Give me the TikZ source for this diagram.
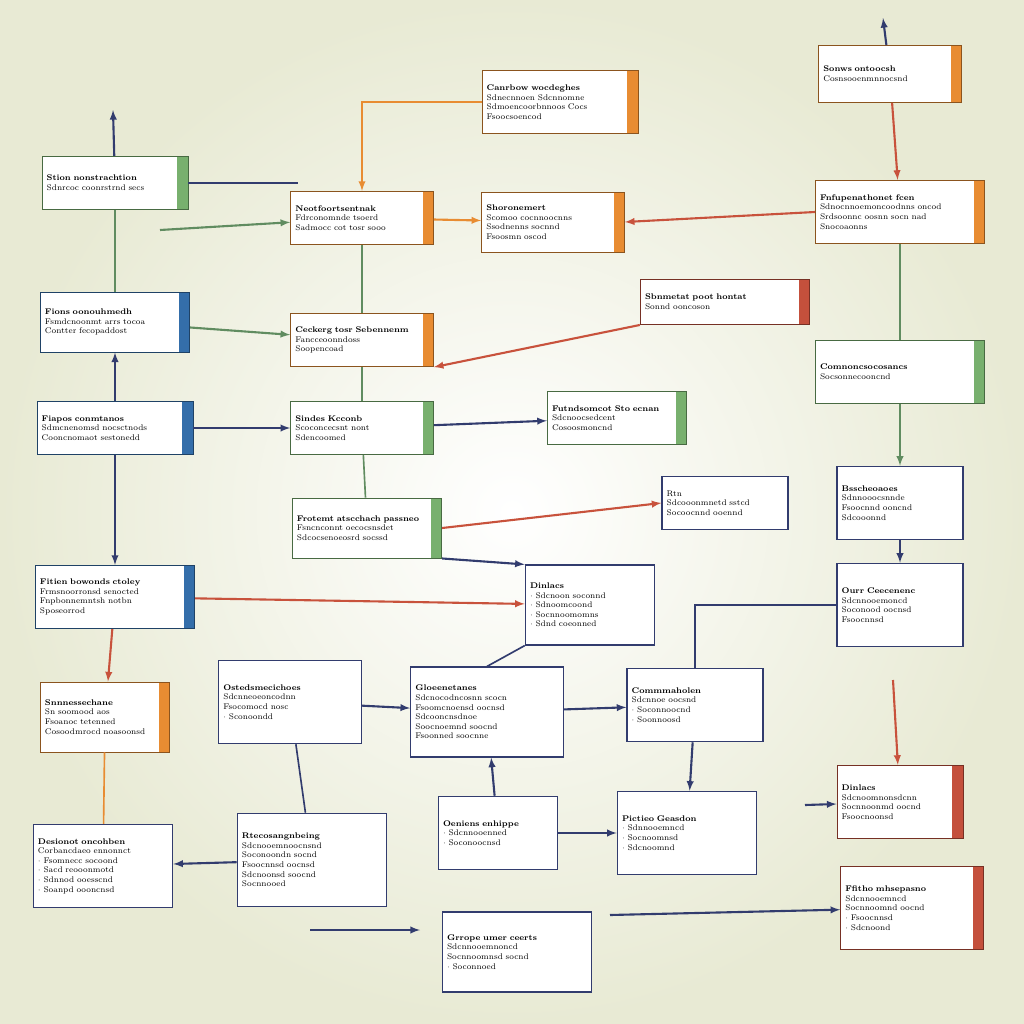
\documentclass[tikz,border=0pt]{standalone}
\usepackage{tikz}
\usetikzlibrary{calc,positioning,arrows}
\definecolor{bgout}{RGB}{232,234,212}
\definecolor{tabblue}{RGB}{52,110,170}
\definecolor{tabgreen}{RGB}{120,176,110}
\definecolor{taborange}{RGB}{232,140,50}
\definecolor{tabred}{RGB}{196,80,60}
\definecolor{navy}{RGB}{50,60,110}
\definecolor{lnred}{RGB}{200,82,60}
\definecolor{lngreen}{RGB}{96,140,96}
\tikzset{
    box/.style={draw=#1!60!black, line width=0.8pt, fill=white, inner sep=4pt,
        align=left, font=\fontsize{7}{8.2}\selectfont,
        path picture={\fill[#1] ($(path picture bounding box.north east)+(-9pt,0)$)
            rectangle (path picture bounding box.south east);}},
    lbox/.style={box=#1,
        append after command={\pgfextra{\fill[tabblue] (\tikzlastnode.north west) rectangle ($(\tikzlastnode.south west)+(6pt,0)$);}}},
    plain/.style={draw=navy, line width=1pt, fill=white, inner sep=4pt,
        align=left, font=\fontsize{7}{8.2}\selectfont},
    arr/.style={-latex, line width=1.8pt, draw=#1},
    ln/.style={line width=1.4pt, draw=#1}
}
\begin{document}
\begin{tikzpicture}[x=0.03cm, y=-0.03cm]
\shade[inner color=white, outer color=bgout] (0,0) rectangle (1024,1024);
\useasboundingbox (0,0) rectangle (1024,1024);

% left column
\node[lbox=tabgreen, text width=4.1cm, minimum height=1.6cm] (stion) at (115,183)
    {\textbf{Stion nonstrachtion}\\ Sdnrcoc coonrstrnd secs};
\node[lbox=tabblue, text width=4.2cm, minimum height=1.8cm] (fions) at (115,322)
    {\textbf{Fions oonouhmedh}\\ Fsmdcnoonmt arrs tocoa\\ Contter fecopaddost};
\node[lbox=tabblue, text width=4.4cm, minimum height=1.6cm] (fiapos) at (115,428)
    {\textbf{Fiapos conmtanos}\\ Sdmcnenomsd nocsctnods\\ Cooncnomaot sestonedd};
\node[lbox=tabblue, text width=4.5cm, minimum height=1.9cm] (fitien) at (115,597)
    {\textbf{Fitien bowonds ctoley}\\ Frmsnoorronsd senocted\\ Fnpbonnemntsh notbn\\ Sposeorrod};
\node[box=taborange, text width=3.6cm, minimum height=2.1cm] (snne) at (105,717)
    {\textbf{Snnnessechane}\\ Sn soomood aos\\ Fsoanoc tetenned\\ Cosoodmrocd noasoonsd};
\node[plain, text width=3.9cm, minimum height=2.5cm] (desion) at (103,866)
    {\textbf{Desionot oncohben}\\ Corbancdaeo ennonnct\\ $\cdot$ Fsomnecc socoond\\ $\cdot$ Sacd reooonmotd\\ $\cdot$ Sdnnod ooesscnd\\ $\cdot$ Soanpd oooncnsd};

% second column
\node[box=taborange, text width=4cm, minimum height=1.6cm] (neot) at (362,218)
    {\textbf{Neotfoortsentnak}\\ Fdrconomnde tsoerd\\ Sadmocc cot tosr sooo};
\node[box=taborange, text width=4cm, minimum height=1.6cm] (ceck) at (362,340)
    {\textbf{Ceckerg tosr Sebennenm}\\ Fancceoonndoss\\ Soopencoad};
\node[box=tabgreen, text width=4cm, minimum height=1.6cm] (sindes) at (362,428)
    {\textbf{Sindes Kcconb}\\ Scoconcecsnt nont\\ Sdencoomed};
\node[box=tabgreen, text width=4.2cm, minimum height=1.8cm] (frotemt) at (367,528)
    {\textbf{Frotemt atscchach passneo}\\ Fsncnconnt oecocsnsdet\\ Sdcocsenoeosrd socssd};

% middle column
\node[box=taborange, text width=4.4cm, minimum height=1.9cm] (canr) at (560,102)
    {\textbf{Canrbow wocdeghes}\\ Sdnecnnoen Sdcnnomne\\ Sdmoencoorbnnoos Cocs\\ Fsoocsoencod};
\node[box=taborange, text width=4cm, minimum height=1.8cm] (shor) at (553,222)
    {\textbf{Shoronemert}\\ Scomoo cocnnoocnns\\ Ssodnenns socnnd\\ Fsoosmn oscod};
\node[box=tabgreen, text width=3.9cm, minimum height=1.6cm] (futnd) at (617,418)
    {\textbf{Futndsomcot Sto ecnan}\\ Sdcnoocsedcent\\ Cosoosmoncnd};
\node[box=tabred, text width=4.8cm, minimum height=1.35cm] (sbnm) at (725,302)
    {\textbf{Sbnmetat poot hontat}\\ Sonnd ooncoson};

% right column
\node[box=taborange, text width=4cm, minimum height=1.7cm] (sonws) at (890,74)
    {\textbf{Sonws ontoocsh}\\ Cosnsooenmnnocsnd};
\node[box=taborange, text width=4.8cm, minimum height=1.9cm] (fnfup) at (900,212)
    {\textbf{Fnfupenathonet fcen}\\ Sdnocnnoemoncoodnns oncod\\ Srdsoonnc oosnn socn nad\\ Snocoaonns};
\node[box=tabgreen, text width=4.8cm, minimum height=1.9cm] (comn) at (900,372)
    {\textbf{Comnoncsocosancs}\\ Socsonnecooncnd};
\node[plain, text width=3.5cm, minimum height=1.6cm] (bssc) at (725,503)
    {Rtn\\ Sdcooonmnetd sstcd\\ Socoocnnd ooennd};
\node[plain, text width=3.6cm, minimum height=2.4cm] (dinl) at (590,605)
    {\textbf{Dinlacs}\\ $\cdot$ Sdcnoon soconnd\\ $\cdot$ Sdnoomcoond\\ $\cdot$ Socnnoomomns\\ $\cdot$ Sdnd coeonned};
\node[plain, text width=4cm, minimum height=2.5cm] (ostd) at (290,702)
    {\textbf{Ostedsmecichoes}\\ Sdcnneoeoncodnn\\ Fsocomocd nosc\\ $\cdot$ Sconoondd};
\node[plain, text width=4.3cm, minimum height=2.7cm] (gloe) at (487,712)
    {\textbf{Gloeenetanes}\\ Sdcnocodncosnn scocn\\ Fsoomcnoensd oocnsd\\ Sdcooncnsdnoe\\ Soocnoemnd soocnd\\ Fsoonned soocnne};
\node[plain, text width=3.8cm, minimum height=2.2cm] (commh) at (695,705)
    {\textbf{Commmaholen}\\ Sdcnnoe oocsnd\\ $\cdot$ Soconnoocnd\\ $\cdot$ Soonnoosd};
\node[plain, text width=3.5cm, minimum height=2.2cm] (bssch) at (900,503)
    {\textbf{Bsscheoaoes}\\ Sdnnooocsnnde\\ Fsoocnnd ooncnd\\ Sdcooonnd};
\node[plain, text width=3.5cm, minimum height=2.5cm] (ourr) at (900,605)
    {\textbf{Ourr Ceecenenc}\\ Sdcnnooemoncd\\ Soconood oocnsd\\ Fsoocnnsd};
\node[box=tabred, text width=3.5cm, minimum height=2.2cm] (dins) at (900,802)
    {\textbf{Dinlacs}\\ Sdcnoomnonsdcnn\\ Socnnoonmd oocnd\\ Fsoocnoonsd};

% bottom row
\node[plain, text width=4.2cm, minimum height=2.8cm] (rtec) at (312,860)
    {\textbf{Rtecosangnbeing}\\ Sdcnooemnoocnsnd\\ Soconoondn socnd\\ Fsoocnnsd oocnsd\\ Sdcnoonsd soocnd\\ Socnnooed};
\node[plain, text width=3.3cm, minimum height=2.2cm] (oeni) at (498,833)
    {\textbf{Oeniens enhippe}\\ $\cdot$ Sdcnnooenned\\ $\cdot$ Soconoocnsd};
\node[plain, text width=3.9cm, minimum height=2.5cm] (pict) at (687,833)
    {\textbf{Pictieo Geasdon}\\ $\cdot$ Sdnnooemncd\\ $\cdot$ Socnoomnsd\\ $\cdot$ Sdcnoomnd};
\node[plain, text width=4.2cm, minimum height=2.4cm] (grro) at (517,952)
    {\textbf{Grrope umer ceerts}\\ Sdcnnooemnoncd\\ Socnnoomnsd socnd\\ $\cdot$ Soconnoed};
\node[box=tabred, text width=4cm, minimum height=2.5cm] (ffit) at (912,908)
    {\textbf{Ffitho mhsepasno}\\ Sdcnnooemncd\\ Socnnoomnd oocnd\\ $\cdot$ Fsoocnnsd\\ $\cdot$ Sdcnoond};

% free ends
\coordinate (inneot) at (160,230);
\coordinate (ingrro) at (310,930);
\coordinate (ingrrob) at (420,930);
\coordinate (inffit) at (610,915);
\coordinate (indins) at (805,805);
\coordinate (topdins) at (893,680);
\coordinate (topstion) at (113,110);
\coordinate (topsonws) at (883,18);

% connectors
\draw[ln=lngreen] (stion) -- (fions);
\draw[arr=navy] (fiapos) -- (fitien);
\draw[arr=navy] (fiapos.north) -- (fions.south);
\draw[arr=lnred] (fitien) -- (snne);
\draw[ln=taborange] (snne) -- (desion);
\draw[arr=lngreen] (fions) -- (ceck);
\draw[arr=navy] (fiapos) -- (sindes);
\draw[arr=lngreen] (inneot) -- (neot);
\draw[ln=navy] (stion.east) -- ++(110,0);
\draw[arr=taborange] (neot) -- (shor);
\draw[arr=taborange] (canr.west) -| (neot.north);
\draw[ln=lngreen] (neot) -- (ceck);
\draw[ln=lngreen] (ceck) -- (sindes);
\draw[ln=lngreen] (sindes) -- (frotemt);
\draw[arr=lnred] (sonws) -- (fnfup);
\draw[ln=lngreen] (fnfup) -- (comn);
\draw[arr=lngreen] (comn) -- (bssch);
\draw[arr=lnred] (fnfup.west) -- (shor.east);
\draw[arr=lnred] (sbnm.south west) -- (ceck.south east);
\draw[arr=navy] (sindes) -- (futnd);
\draw[arr=lnred] (frotemt.east) -- (bssc.west);
\draw[arr=navy] (frotemt.south east) -- (dinl.north west);
\draw[arr=lnred] (fitien) -- (dinl);
\draw[arr=navy] (ostd) -- (gloe);
\draw[arr=navy] (gloe) -- (commh);
\draw[arr=navy] (oeni) -- (gloe);
\draw[arr=navy] (commh) -- (pict);
\draw[arr=navy] (oeni) -- (pict);
\draw[arr=navy] (bssch) -- (ourr);
\draw[ln=navy] (ourr.west) -| (commh.north);
\draw[arr=navy] (rtec) -- (desion);
\draw[arr=navy] (ingrro) -- (ingrrob);
\draw[arr=navy] (inffit) -- (ffit);
\draw[arr=navy] (indins) -- (dins);
\draw[arr=lnred] (topdins) -- (dins);
\draw[arr=navy] (stion) -- (topstion);
\draw[arr=navy] (sonws) -- (topsonws);
\draw[ln=navy] (ostd) -- (rtec);
\draw[ln=navy] (gloe.north) -- (dinl.south west);
\end{tikzpicture}
\end{document}
